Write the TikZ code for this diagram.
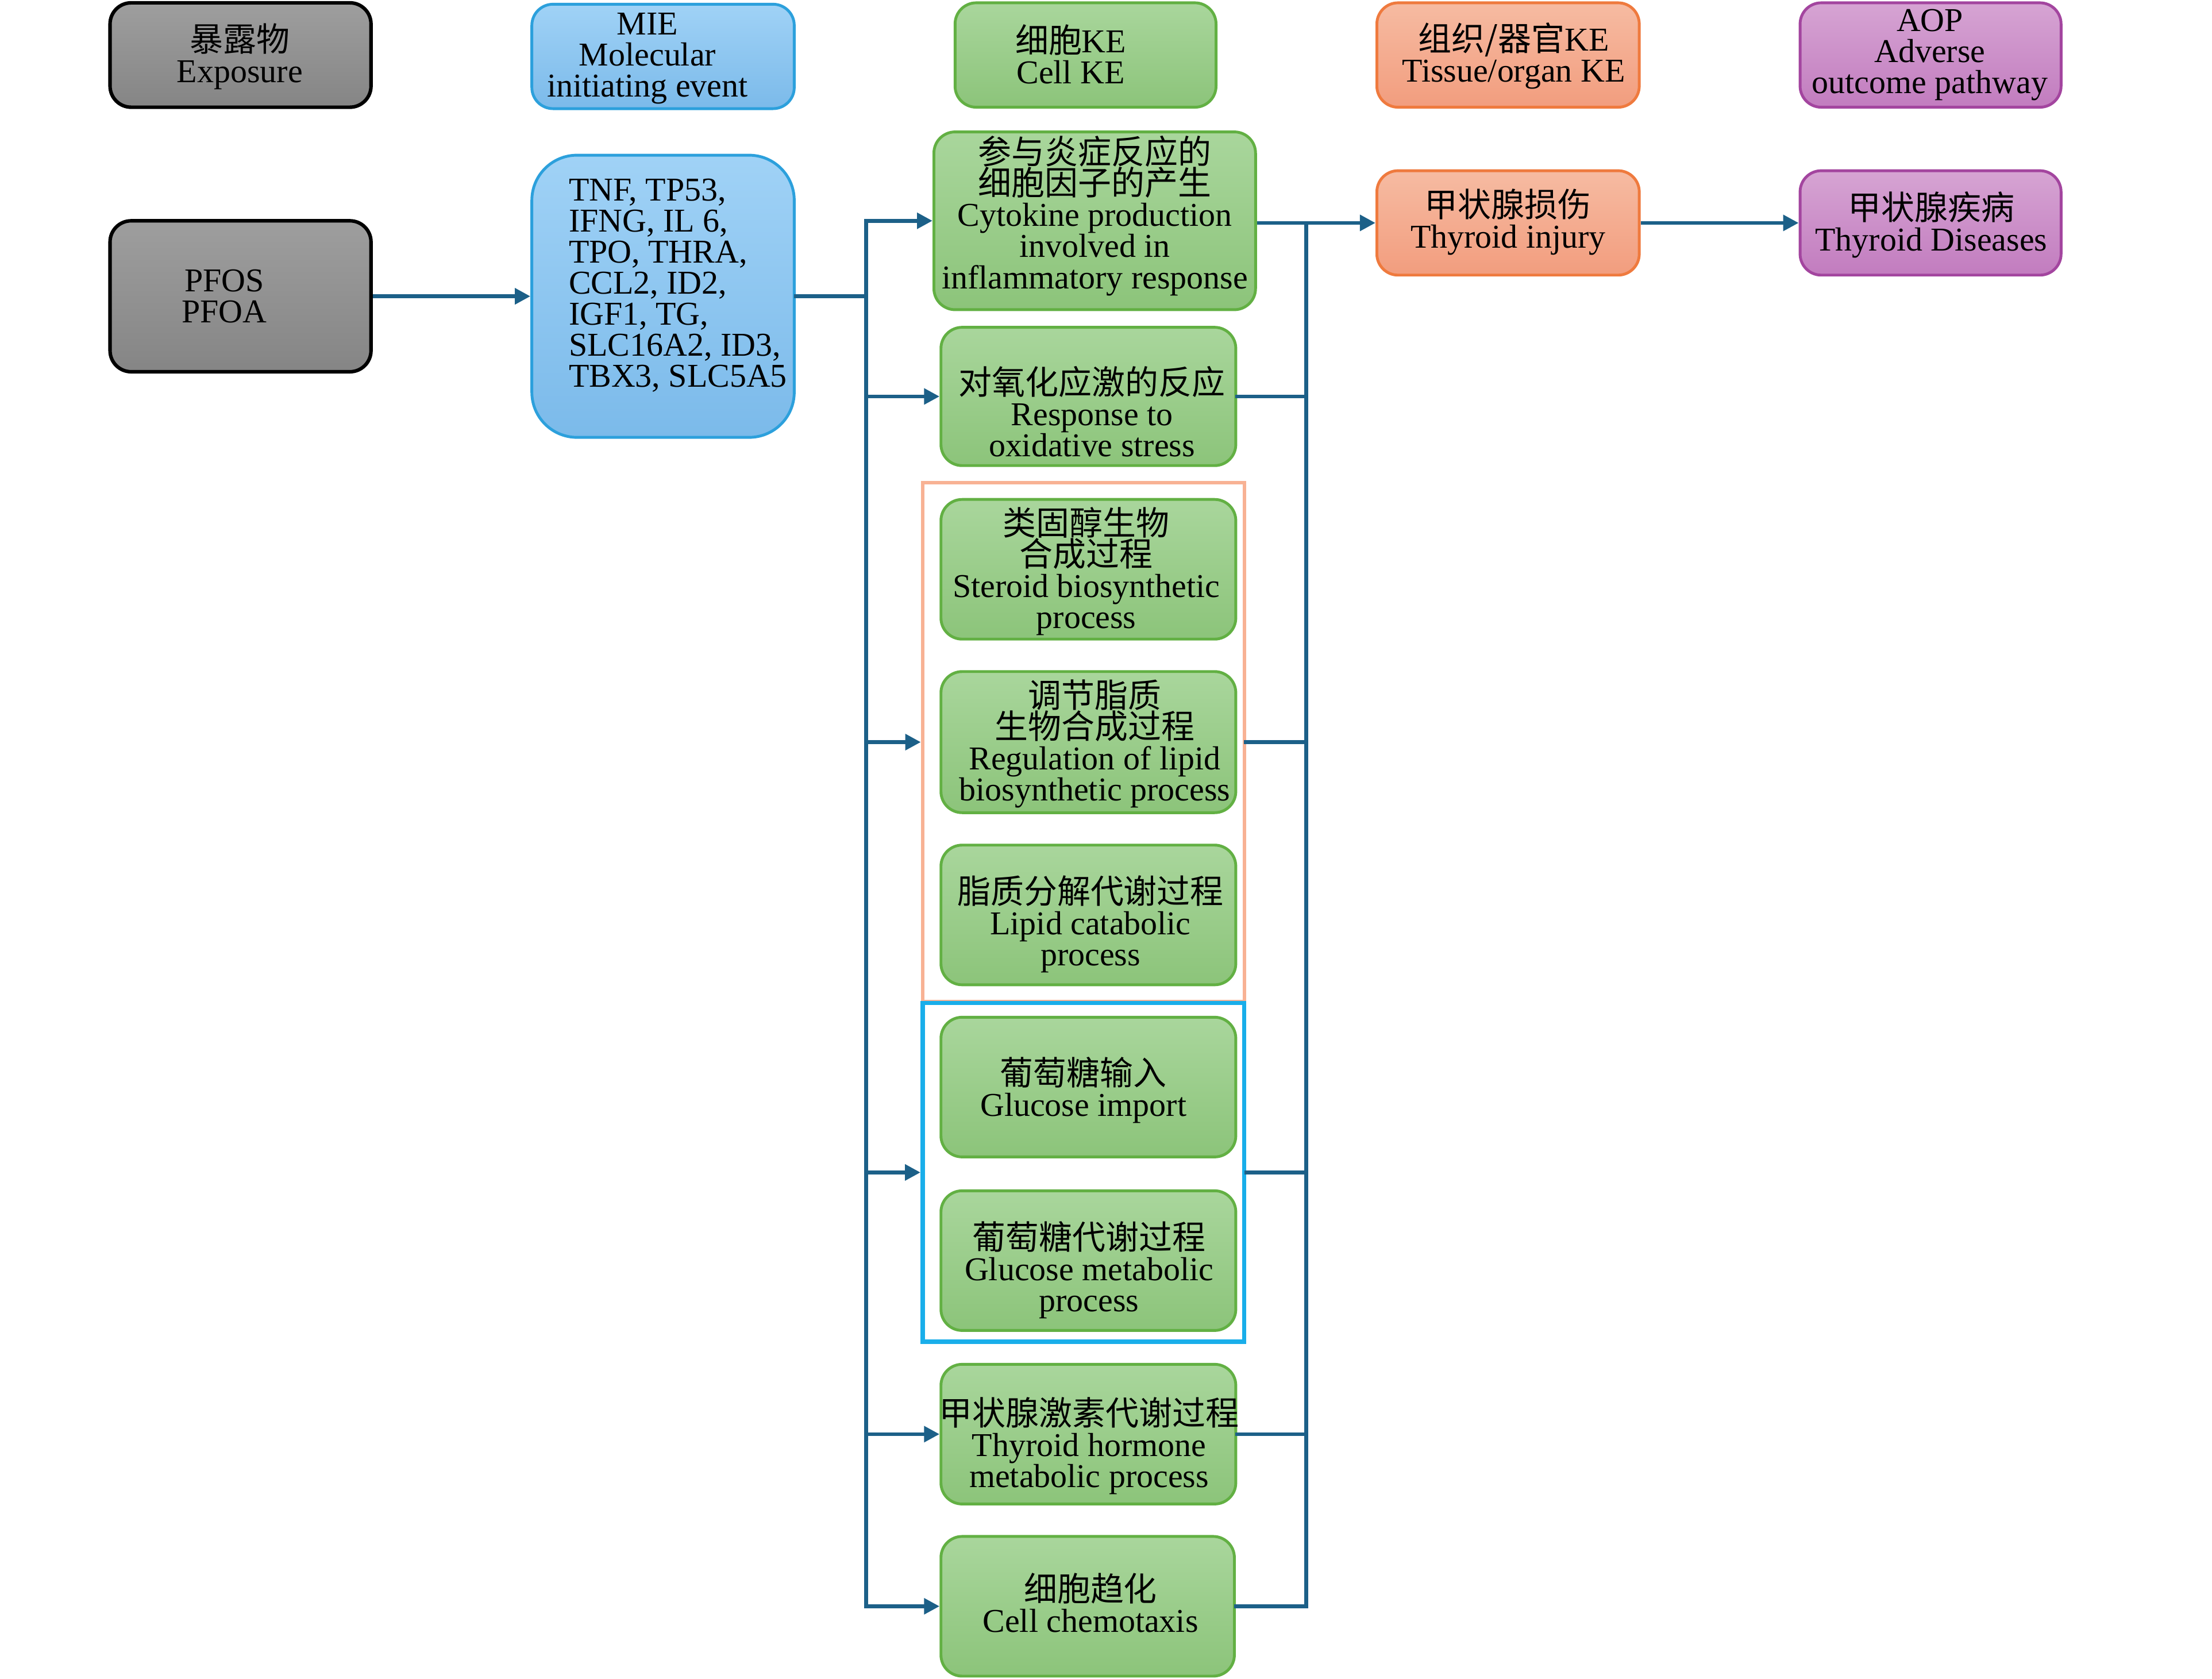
\documentclass[tikz,border=0pt]{standalone}
\usepackage{fontspec}
\setmainfont{Liberation Serif}
\newfontfamily\cjk{Noto Sans CJK SC}
\usetikzlibrary{arrows.meta}
\newcommand\zh[1]{{\cjk #1}}
\newcommand\nodefont{\fontsize{23.6}{22}\selectfont\lineskiplimit=-100pt\relax\lineskip=0pt\relax}
\definecolor{connc}{HTML}{1C6088}
\definecolor{grayT}{HTML}{9E9E9E}
\definecolor{grayM}{HTML}{ABABAB}
\definecolor{grayB}{HTML}{858585}
\definecolor{blueT}{HTML}{A0D2F6}
\definecolor{blueB}{HTML}{7BBAEA}
\definecolor{blueD}{HTML}{2CA0DC}
\definecolor{greenT}{HTML}{A9D69C}
\definecolor{greenB}{HTML}{8CC47A}
\definecolor{greenD}{HTML}{62B043}
\definecolor{salT}{HTML}{F6BBA2}
\definecolor{salB}{HTML}{F29D7E}
\definecolor{salD}{HTML}{EF7A3E}
\definecolor{purT}{HTML}{D6A4D3}
\definecolor{purB}{HTML}{C27CBF}
\definecolor{purD}{HTML}{A3459F}
\definecolor{orfr}{HTML}{F8B294}
\definecolor{blfr}{HTML}{19AEEA}
\tikzset{
  box/.style={rectangle, rounded corners=15pt, inner sep=0pt, line width=2pt},
  graybox/.style={box, draw=black, line width=2.5pt, top color=grayT, middle color=grayM, bottom color=grayB},
  bluebox/.style={box, draw=blueD, top color=blueT, bottom color=blueB},
  greenbox/.style={box, draw=greenD, top color=greenT, bottom color=greenB},
  salbox/.style={box, draw=salD, top color=salT, bottom color=salB},
  purbox/.style={box, draw=purD, top color=purT, bottom color=purB},
  frame/.style={rectangle, inner sep=0pt},
  txt/.style={align=center, inner sep=0pt, font=\nodefont},
  conn/.style={draw=connc, line width=2.7pt, line cap=rect},
  arr/.style={draw=connc, line width=2.7pt, -{Triangle[length=11pt,width=11pt]}},
}
\begin{document}
\begin{tikzpicture}[x=1pt,y=-1pt]
\useasboundingbox (0,0) rectangle (1568,1190);
% header row
\node[graybox, minimum width=185pt, minimum height=74pt] (hexp) at (170.5,39) {};
\node[txt] (hexpt) at (170,40) {\zh{暴露物}\\Exposure};
\node[bluebox, minimum width=186pt, minimum height=74pt] (hmie) at (470,40) {};
\node[txt] (hmiet) at (459,41.5) {MIE\\Molecular\\initiating event};
\node[greenbox, minimum width=185pt, minimum height=74pt] (hcell) at (769.5,39) {};
\node[txt] (hcellt) at (759,38.5) {\zh{细胞}KE\\Cell KE};
\node[salbox, minimum width=186pt, minimum height=74pt] (htis) at (1069,39) {};
\node[txt] (htist) at (1073,39.5) {\zh{组织/器官}KE\\Tissue/organ KE};
\node[purbox, minimum width=185pt, minimum height=74pt] (haop) at (1368.5,39) {};
\node[txt] (haopt) at (1368,39) {AOP\\Adverse\\outcome pathway};
% exposure and MIE
\node[graybox, minimum width=185pt, minimum height=107pt] (pfos) at (170.5,210) {};
\node[txt] (pfost) at (159,210) {PFOS\\PFOA};
\node[bluebox, rounded corners=32pt, minimum width=186pt, minimum height=200pt] (genes) at (470,210) {};
\node[txt, align=left, anchor=west] (genest) at (403,202.5) {TNF, TP53,\\IFNG, IL 6,\\TPO, THRA,\\CCL2, ID2,\\IGF1, TG,\\SLC16A2, ID3,\\TBX3, SLC5A5};
% frames
\node[frame, draw=orfr, line width=2.5pt, minimum width=228pt, minimum height=368pt] (orf) at (768,526) {};
\node[frame, draw=blfr, line width=3pt, minimum width=228pt, minimum height=240pt] (blf) at (768,831) {};
% cell KEs
\node[greenbox, minimum width=228pt, minimum height=126pt] (cyt) at (776,156.5) {};
\node[txt] (cytt) at (776,153) {\zh{参与炎症反应的}\\\zh{细胞因子的产生}\\Cytokine production\\involved in\\inflammatory response};
\node[greenbox, minimum width=209pt, minimum height=98pt] (ox) at (771.5,281) {};
\node[txt] (oxt) at (774,291.5) {\zh{对氧化应激的反应}\\Response to\\oxidative stress};
\node[greenbox, minimum width=209pt, minimum height=99pt] (ster) at (771.5,403.5) {};
\node[txt] (stert) at (770,405) {\zh{类固醇生物}\\\zh{合成过程}\\Steroid biosynthetic\\process};
\node[greenbox, minimum width=209pt, minimum height=100pt] (lreg) at (771.5,526) {};
\node[txt] (lregt) at (776,527) {\zh{调节脂质}\\\zh{生物合成过程}\\Regulation of lipid\\biosynthetic process};
\node[greenbox, minimum width=209pt, minimum height=99pt] (lcat) at (771.5,648.5) {};
\node[txt] (lcatt) at (773,655) {\zh{脂质分解代谢过程}\\Lipid catabolic\\process};
\node[greenbox, minimum width=209pt, minimum height=99pt] (gimp) at (771.5,770.5) {};
\node[txt] (gimpt) at (768,772.5) {\zh{葡萄糖输入}\\Glucose import};
\node[greenbox, minimum width=209pt, minimum height=99pt] (gmet) at (771.5,893.5) {};
\node[txt] (gmett) at (772,900) {\zh{葡萄糖代谢过程}\\Glucose metabolic\\process};
\node[greenbox, minimum width=209pt, minimum height=99pt] (thm) at (771.5,1016.5) {};
\node[txt] (thmt) at (772,1025) {\zh{甲状腺激素代谢过程}\\Thyroid hormone\\metabolic process};
\node[greenbox, minimum width=208pt, minimum height=99pt] (chem) at (771,1138.5) {};
\node[txt] (chemt) at (773,1136) {\zh{细胞趋化}\\Cell chemotaxis};
% tissue and AOP
\node[salbox, minimum width=186pt, minimum height=74pt] (inj) at (1069,158) {};
\node[txt] (injt) at (1069,157.5) {\zh{甲状腺损伤}\\Thyroid injury};
\node[purbox, minimum width=185pt, minimum height=74pt] (dis) at (1368.5,158) {};
\node[txt] (dist) at (1369,159.5) {\zh{甲状腺疾病}\\Thyroid Diseases};
% connectors
\coordinate (L) at (614,0);
\coordinate (R) at (926,0);
\draw[arr] (pfos.east) -- (genes.west);
\draw[conn] (genes.east) -- (genes.east -| L);
\draw[conn] (cyt.west -| L) -- (chem.west -| L);
\foreach \n in {cyt,ox,orf,blf,thm,chem} \draw[arr] (\n.west -| L) -- (\n.west);
\foreach \n in {ox,orf,blf,thm,chem} \draw[conn] (\n.east) -- (\n.east -| R);
\draw[conn] (R |- inj.west) -- (R |- chem.east);
\draw[arr] (cyt.east |- inj.west) -- (inj.west);
\draw[arr] (inj.east) -- (dis.west);
\end{tikzpicture}
\end{document}
